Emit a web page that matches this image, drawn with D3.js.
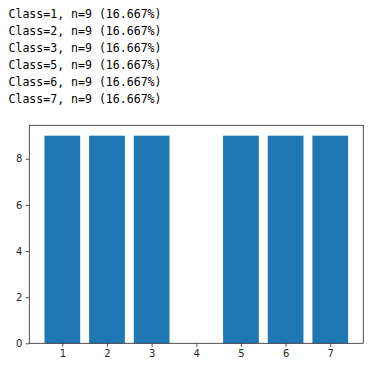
<!DOCTYPE html>
<html><head><meta charset="utf-8">
<script src="https://cdn.jsdelivr.net/npm/d3@7"></script>
<style>body{margin:0;background:#fff}svg{display:block}</style>
</head><body>
<script>
const categories = [1, 2, 3, 4, 5, 6, 7];
const counts = [9, 9, 9, 0, 9, 9, 9];
const yTicks = [0, 2, 4, 6, 8];
const summaryLines = [
  "Class=1, n=9 (16.667%)",
  "Class=2, n=9 (16.667%)",
  "Class=3, n=9 (16.667%)",
  "Class=5, n=9 (16.667%)",
  "Class=6, n=9 (16.667%)",
  "Class=7, n=9 (16.667%)"
];

(function () {
const W = 375, H = 368;
const svg = d3.select("body").append("svg").attr("width", W).attr("height", H);

svg.selectAll("text.summary").data(summaryLines).join("text")
  .attr("class", "summary")
  .attr("x", 8.5)
  .attr("y", (d, i) => 17.5 + i * 17)
  .attr("textLength", 153)
  .attr("lengthAdjust", "spacingAndGlyphs")
  .style("font-family", "'DejaVu Sans Mono', monospace")
  .style("font-size", "13px")
  .attr("fill", "#000")
  .text(d => d);

const pl = 29.3, pr = 363.3, pt = 125.3, pb = 343.3;
const x = d3.scaleLinear().domain([0.26, 7.74]).range([pl, pr]);
const y = d3.scaleLinear().domain([0, 9.45]).range([pb, pt]);
const bw = 0.8;

svg.selectAll("rect.bar").data(categories.map((c, i) => ({c, v: counts[i]}))).join("rect")
  .attr("class", "bar")
  .attr("x", d => x(d.c - bw / 2))
  .attr("width", d => x(d.c + bw / 2) - x(d.c - bw / 2))
  .attr("y", d => y(d.v))
  .attr("height", d => y(0) - y(d.v))
  .attr("fill", "#1f77b4");

const xAxis = d3.axisBottom(x).tickValues(categories).tickSize(3.5).tickPadding(3.5).tickFormat(d3.format("d"));
const yAxis = d3.axisLeft(y).tickValues(yTicks).tickSize(3.5).tickPadding(3.5).tickFormat(d3.format("d"));

const gx = svg.append("g").attr("transform", `translate(0,${pb})`).call(xAxis);
const gy = svg.append("g").attr("transform", `translate(${pl},0)`).call(yAxis);
[gx, gy].forEach(g => {
  g.select(".domain").remove();
  g.selectAll("line").attr("stroke", "#262626").attr("stroke-width", 0.8);
  g.selectAll("text").attr("fill", "#262626")
    .style("font-family", "'DejaVu Sans', sans-serif").style("font-size", "10px");
});

svg.append("rect")
  .attr("x", pl).attr("y", pt)
  .attr("width", pr - pl).attr("height", pb - pt)
  .attr("fill", "none").attr("stroke", "#262626").attr("stroke-width", 0.8);
})();
</script>
</body></html>
